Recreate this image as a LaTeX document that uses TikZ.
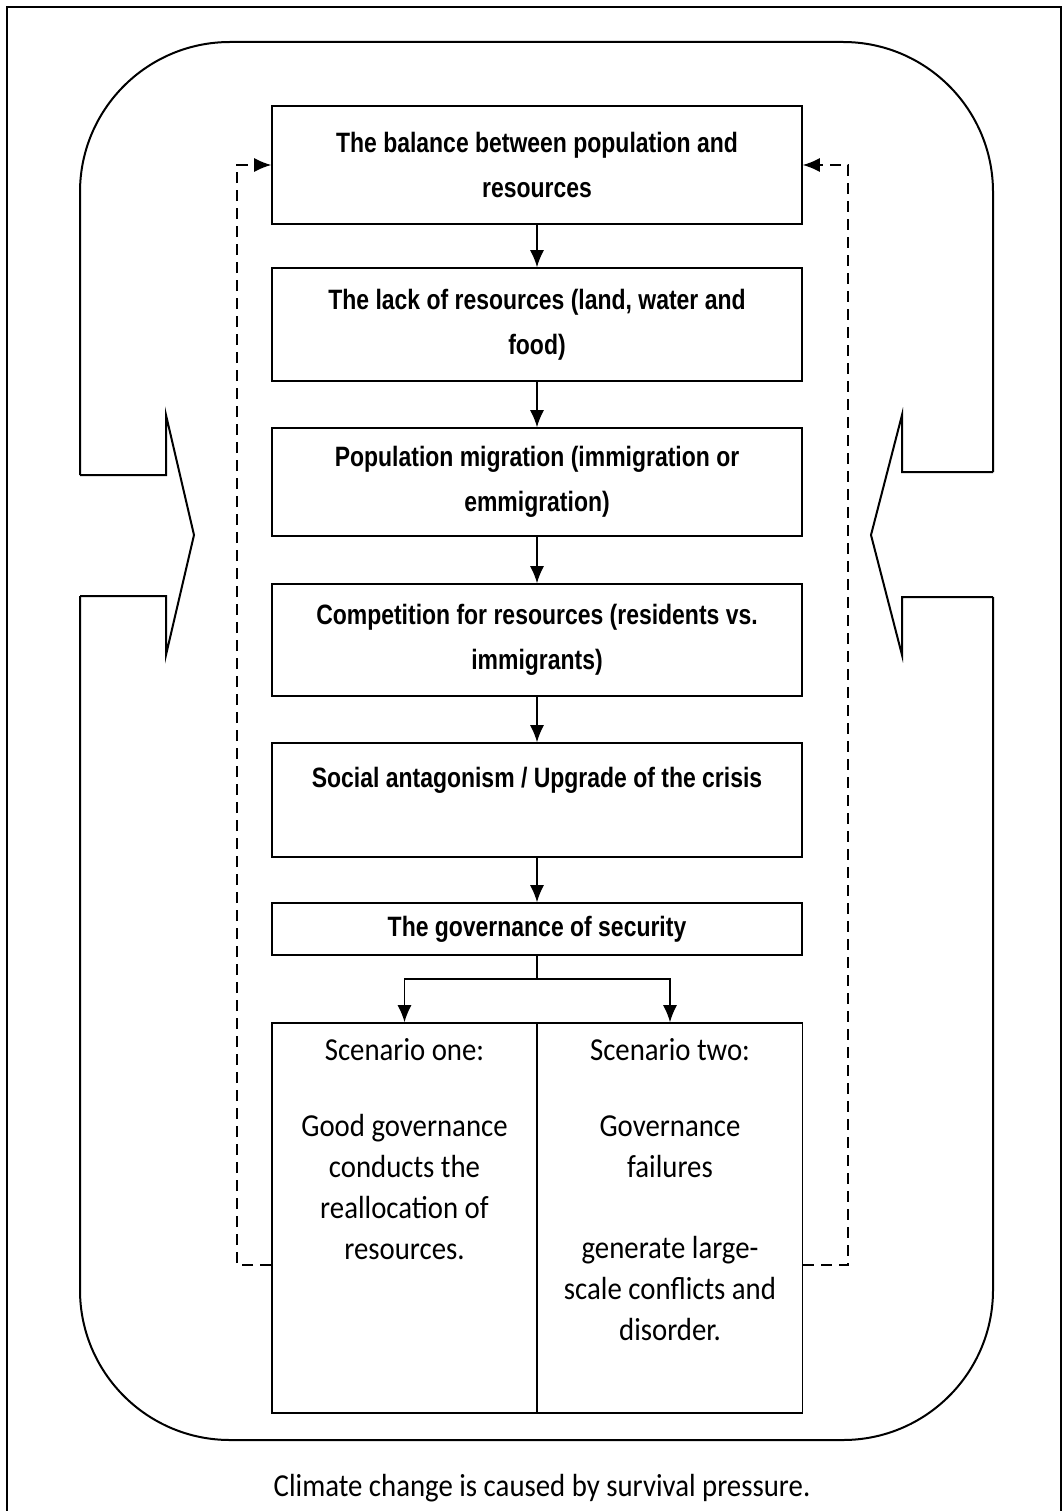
\documentclass[tikz,border=0pt]{standalone}
\usepackage{fontspec}
\setmainfont{Carlito}[FakeStretch=0.9]
\newfontfamily\narrowfont{Liberation Sans}[FakeStretch=0.82]
\usetikzlibrary{arrows.meta}

\begin{document}
\begin{tikzpicture}[
    x=1pt, y=-1pt,
    frame/.style={line width=2pt},
    box_text/.style={rectangle, draw, line width=1.6pt, align=center, minimum width=530pt, inner sep=0pt, font=\narrowfont\bfseries\fontsize{28pt}{45pt}\selectfont},
    box_scen/.style={rectangle, draw, line width=1.6pt, minimum width=265pt, minimum height=390pt, inner sep=0pt, font=\fontsize{32pt}{41pt}\selectfont},
    note_text/.style={font=\fontsize{32pt}{41pt}\selectfont},
    flow/.style={draw, line width=1.4pt, -{Latex[length=17pt, width=14pt]}},
    feedback/.style={draw, line width=1.4pt, dash pattern=on 11pt off 7pt, -{Latex[length=17pt, width=14pt]}}
]
\useasboundingbox (0,0) rectangle (1063,1511);
% page frame, open at the bottom
\draw[frame] (7,1530) |- (1061,7) -- (1061,1530);

% the rounded loop with its two inward arrows
\draw[frame, rounded corners=150pt] (80,475) -- (80,42) -- (993,42) -- (993,472);
\draw[frame, rounded corners=150pt] (80,596) -- (80,1440) -- (993,1440) -- (993,597);
\draw[frame] (80,475) -- (166,475) -- (166,415) -- (194,535) -- (166,655) -- (166,596) -- (80,596);
\draw[frame] (993,472) -- (902,472) -- (902,415) -- (871,535) -- (902,655) -- (902,597) -- (993,597);

% chain of boxes
\node[box_text, minimum height=118pt] (bal) at (537,165) {The balance between population and\\ resources};
\node[box_text, minimum height=113pt] (lack) at (537,324.5) {The lack of resources (land, water and\\ food)};
\node[box_text, minimum height=108pt] (migr) at (537,482) {Population migration (immigration or\\ emmigration)};
\node[box_text, minimum height=112pt] (comp) at (537,640) {Competition for resources (residents vs.\\ immigrants)};
\node[box_text, minimum height=114pt] (antag) at (537,800) {Social antagonism / Upgrade of the crisis\\ \mbox{}};
\node[box_text, minimum height=52pt] (gov) at (537,929) {The governance of security};

\node[box_scen] (sone) at (404.5,1218) {\parbox[t][360pt][t]{240pt}{\centering
    Scenario one:\\[35pt]
    Good governance\\ conducts the\\ reallocation of\\ resources.}};
\node[box_scen] (stwo) at (670,1218) {\parbox[t][360pt][t]{240pt}{\centering
    Scenario two:\\[35pt]
    Governance\\ failures\\[40pt]
    generate large-\\ scale conflicts and\\ disorder.}};

\draw[flow] (bal) -- (lack);
\draw[flow] (lack) -- (migr);
\draw[flow] (migr) -- (comp);
\draw[flow] (comp) -- (antag);
\draw[flow] (antag) -- (gov);
\coordinate (br) at (537,979);
\draw[line width=1.4pt] (gov) -- (br);
\draw[flow] (br) -| (sone);
\draw[flow] (br) -| (stwo);

% feedback to the top box
\coordinate (fbl) at (237,1265);
\coordinate (fbr) at (848,1265);
\draw[feedback] (fbl -| sone.west) -- (fbl) |- (bal.west);
\draw[feedback] (fbr -| stwo.east) -- (fbr) |- (bal.east);

\node[note_text] (note) at (542,1488) {Climate change is caused by survival pressure.};
\end{tikzpicture}
\end{document}
